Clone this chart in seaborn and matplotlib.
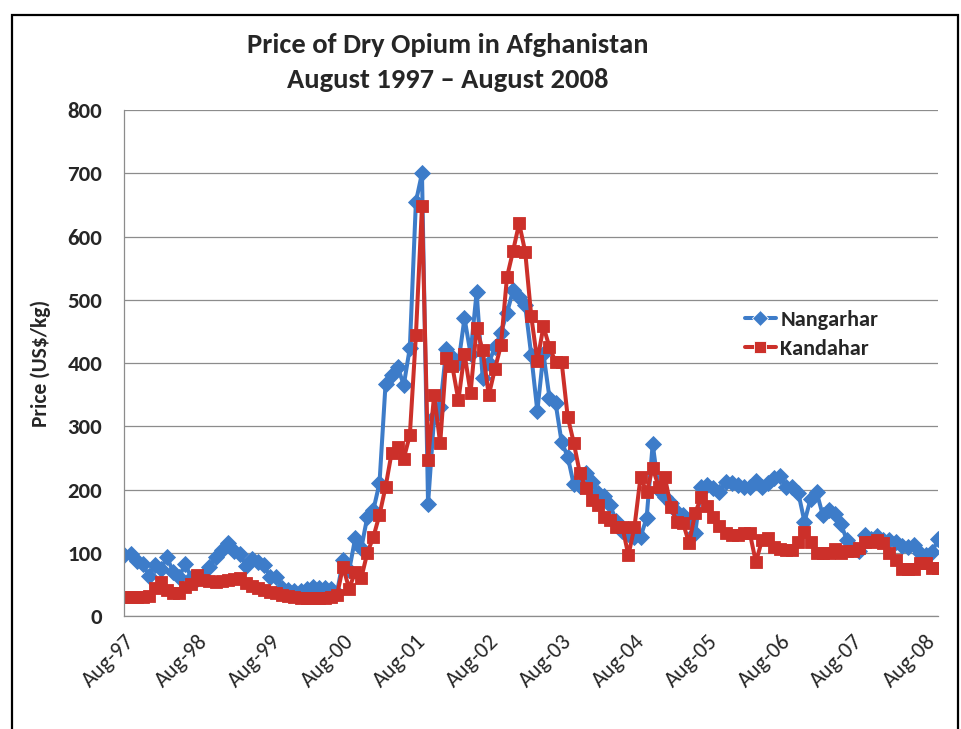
import pandas as pd
import matplotlib
matplotlib.use("Agg")
import matplotlib.pyplot as plt
import seaborn as sns
from matplotlib.patches import Rectangle

# monthly prices, Aug-97 .. Oct-08 (US$/kg)
nangarhar = [96, 98, 87, 82, 64, 80, 74, 93, 70, 61, 83, 60,
             58, 64, 77, 93, 104, 115, 103, 98, 79, 90, 86, 80,
             61, 62, 45, 41, 40, 40, 43, 46, 45, 44, 42, 37,
             88, 72, 123, 107, 157, 168, 210, 367, 381, 394, 365, 424,
             655, 700, 177, 315, 330, 422, 410, 400, 471, 415, 512, 376,
             400, 425, 448, 479, 515, 505, 491, 412, 324, 415, 345, 337,
             275, 252, 208, 205, 226, 212, 195, 190, 175, 150, 135, 130,
             125, 125, 155, 272, 200, 188, 178, 165, 160, 150, 131, 204,
             207, 202, 196, 212, 210, 207, 204, 204, 213, 204, 210, 218,
             221, 204, 204, 194, 149, 185, 196, 160, 168, 161, 145, 120,
             108, 102, 128, 121, 126, 120, 120, 117, 110, 109, 112, 100,
             96, 101, 121]
kandahar = [30, 30, 30, 30, 32, 44, 54, 41, 37, 36, 46, 50,
            65, 57, 55, 54, 55, 57, 59, 60, 52, 47, 44, 41,
            38, 36, 34, 32, 30, 29, 29, 28, 28, 29, 30, 33,
            78, 43, 70, 60, 100, 125, 160, 204, 258, 268, 249, 286,
            444, 648, 247, 349, 273, 408, 395, 341, 415, 353, 455, 420,
            349, 390, 428, 536, 577, 621, 576, 474, 403, 458, 425, 402,
            402, 315, 274, 226, 202, 183, 175, 157, 152, 141, 141, 96,
            141, 220, 196, 234, 204, 220, 172, 149, 147, 115, 163, 188,
            174, 157, 142, 131, 128, 128, 131, 131, 85, 120, 123, 109,
            106, 104, 104, 117, 133, 117, 100, 100, 100, 106, 100, 102,
            102, 107, 117, 117, 120, 115, 100, 89, 75, 74, 75, 84,
            84, 76, 76]
tick_labels = ["Aug-97", "Aug-98", "Aug-99", "Aug-00", "Aug-01", "Aug-02",
               "Aug-03", "Aug-04", "Aug-05", "Aug-06", "Aug-07", "Aug-08"]

n = min(len(nangarhar), len(kandahar))
df = pd.DataFrame({
    "month": list(range(n)) * 2,
    "price": nangarhar[:n] + kandahar[:n],
    "region": ["Nangarhar"] * n + ["Kandahar"] * n,
})

sns.set_style("white")
fam = ["Carlito", "Liberation Sans Narrow", "Liberation Sans", "DejaVu Sans"]
plt.rcParams["font.family"] = fam

blue = "#3d7cc9"
red = "#cc302a"

fig = plt.figure(figsize=(9.62, 7.29), dpi=100)
ax = fig.add_axes([0.1294, 0.155, 0.8457, 0.694])

sns.lineplot(data=df, x="month", y="price", hue="region", style="region",
             hue_order=["Nangarhar", "Kandahar"],
             palette={"Nangarhar": blue, "Kandahar": red},
             markers={"Nangarhar": "D", "Kandahar": "s"}, dashes=False,
             linewidth=2.9, markersize=8, markeredgewidth=0.6, ax=ax)
for line, c in zip(ax.lines, [blue, red]):
    line.set_markeredgecolor(c)

ax.set_xlim(0, n - 1)
ax.set_ylim(0, 800)
ax.set_yticks(range(0, 801, 100))
ax.set_xticks(range(0, 133, 12))
ax.set_xticklabels(tick_labels, rotation=45, ha="right", rotation_mode="anchor",
                   fontsize=16)
for lab in ax.get_yticklabels():
    lab.set_fontweight("bold")
    lab.set_fontsize(16.5)
ax.tick_params(axis="both", direction="out", length=5, width=0.8, color="#888888")
ax.tick_params(axis="y", pad=11)
ax.tick_params(axis="x", pad=6)
ax.grid(axis="y", color="#8c8c8c", linewidth=0.9)
ax.set_axisbelow(True)
for s in ["top", "right"]:
    ax.spines[s].set_visible(False)
for s in ["left", "bottom"]:
    ax.spines[s].set_color("#8c8c8c")
    ax.spines[s].set_linewidth(0.9)
ax.set_xlabel("")
ax.set_ylabel("Price (US$/kg)", fontsize=15.5, fontweight="bold", labelpad=12)

leg = ax.legend(loc="upper left", bbox_to_anchor=(0.738, 0.644), frameon=False,
                handlelength=1.4, handletextpad=0.2, labelspacing=0.38,
                prop={"weight": "bold", "size": 16, "family": fam})

fig.text(0.465, 0.938, "Price of Dry Opium in Afghanistan", ha="center",
         va="center", fontsize=20.5, fontweight="bold")
fig.text(0.465, 0.890, "August 1997 \u2013 August 2008", ha="center",
         va="center", fontsize=20.5, fontweight="bold")

# outer chart frame (partly cropped in the original)
fig.patches.append(Rectangle((12 / 962, -0.05), 946 / 962, 1.05 - 15 / 729,
                             transform=fig.transFigure, fill=False,
                             edgecolor="black", linewidth=1.6))

fig.savefig("out.png", dpi=100)
